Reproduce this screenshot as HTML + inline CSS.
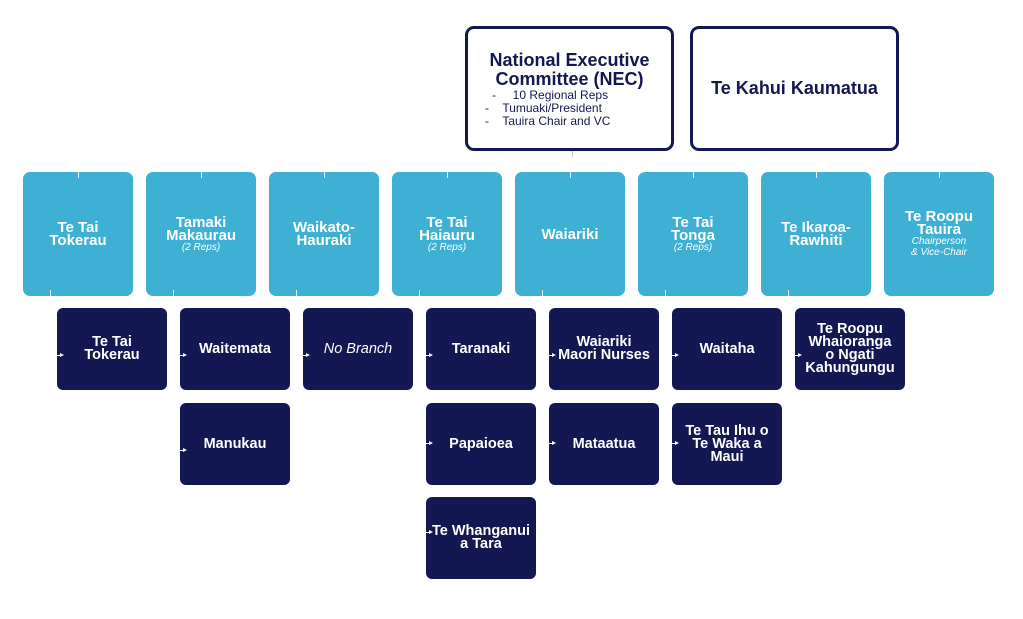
<!DOCTYPE html>
<html><head><meta charset="utf-8"><style>
body{margin:0;width:1023px;height:619px;background:#fff;position:relative;overflow:hidden;font-family:"Liberation Sans",sans-serif;}
.b{position:absolute;box-sizing:border-box;display:flex;flex-direction:column;align-items:center;justify-content:center;text-align:center;font-weight:bold;}
.l{background:#3db0d3;color:#fff;width:110px;height:124px;top:172px;border-radius:7px;font-size:15px;line-height:13px;}
.d{background:#141852;color:#fff;width:110px;height:82px;border-radius:6px;font-size:14.5px;line-height:13px;}
.s{font-size:10px;font-style:italic;font-weight:normal;line-height:11px;}
.t{position:absolute;width:1px;background:#e8f4f8;}
.a{position:absolute;width:0;height:0;border-left:4px solid #fff;border-top:2px solid transparent;border-bottom:2px solid transparent;}
.al{position:absolute;height:1px;width:4px;background:#fff;}
.w{position:absolute;top:26px;height:125px;box-sizing:border-box;border:3px solid #141852;border-radius:9px;color:#141852;text-align:center;font-weight:bold;}
</style></head><body>
<div class="w" style="left:465px;width:209px;padding-top:22px;">
<div style="font-size:18px;line-height:19px;">National Executive<br>Committee (NEC)</div>
<div style="font-size:12px;font-weight:normal;line-height:13px;text-align:left;padding-left:24px;">
<div>-&nbsp;&nbsp;&nbsp;&nbsp;&nbsp;10 Regional Reps</div>
<div style="margin-left:-7px">-&nbsp;&nbsp;&nbsp;&nbsp;Tumuaki/President</div>
<div style="margin-left:-7px">-&nbsp;&nbsp;&nbsp;&nbsp;Tauira Chair and VC</div></div></div>
<div class="w" style="left:690px;width:209px;padding-top:49px;font-size:18px;">Te Kahui Kaumatua</div>
<div class="t" style="left:572px;top:151px;height:6px;background:#ccc"></div>

<div class="b l" style="left:23px">Te Tai<br>Tokerau</div>
<div class="b l" style="left:146px">Tamaki<br>Makaurau<span class="s">(2 Reps)</span></div>
<div class="b l" style="left:269px">Waikato-<br>Hauraki</div>
<div class="b l" style="left:392px">Te Tai<br>Haiauru<span class="s">(2 Reps)</span></div>
<div class="b l" style="left:515px">Waiariki</div>
<div class="b l" style="left:638px">Te Tai<br>Tonga<span class="s">(2 Reps)</span></div>
<div class="b l" style="left:761px">Te Ikaroa-<br>Rawhiti</div>
<div class="b l" style="left:884px">Te Roopu<br>Tauira<span class="s">Chairperson<br>&amp; Vice-Chair</span></div>

<div class="t" style="left:78px;top:172px;height:6px"></div><div class="t" style="left:50px;top:290px;height:6px"></div>
<div class="t" style="left:201px;top:172px;height:6px"></div><div class="t" style="left:173px;top:290px;height:6px"></div>
<div class="t" style="left:324px;top:172px;height:6px"></div><div class="t" style="left:296px;top:290px;height:6px"></div>
<div class="t" style="left:447px;top:172px;height:6px"></div><div class="t" style="left:419px;top:290px;height:6px"></div>
<div class="t" style="left:570px;top:172px;height:6px"></div><div class="t" style="left:542px;top:290px;height:6px"></div>
<div class="t" style="left:693px;top:172px;height:6px"></div><div class="t" style="left:665px;top:290px;height:6px"></div>
<div class="t" style="left:816px;top:172px;height:6px"></div><div class="t" style="left:788px;top:290px;height:6px"></div>
<div class="t" style="left:939px;top:172px;height:6px"></div>

<div class="b d" style="left:57px;top:308px">Te Tai<br>Tokerau</div>
<div class="b d" style="left:180px;top:308px">Waitemata</div>
<div class="b d" style="left:180px;top:403px">Manukau</div>
<div class="b d" style="left:303px;top:308px;font-weight:normal;font-style:italic">No Branch</div>
<div class="b d" style="left:426px;top:308px">Taranaki</div>
<div class="b d" style="left:426px;top:403px">Papaioea</div>
<div class="b d" style="left:426px;top:497px">Te Whanganui<br>a Tara</div>
<div class="b d" style="left:549px;top:308px">Waiariki<br>Maori Nurses</div>
<div class="b d" style="left:549px;top:403px">Mataatua</div>
<div class="b d" style="left:672px;top:308px">Waitaha</div>
<div class="b d" style="left:672px;top:403px">Te Tau Ihu o<br>Te Waka a<br>Maui</div>
<div class="b d" style="left:795px;top:308px">Te Roopu<br>Whaioranga<br>o Ngati<br>Kahungungu</div>

<div class="a" style="left:60px;top:353px"></div><div class="al" style="left:57px;top:355px"></div>
<div class="a" style="left:183px;top:353px"></div><div class="al" style="left:180px;top:355px"></div>
<div class="a" style="left:183px;top:448px"></div><div class="al" style="left:180px;top:450px"></div>
<div class="a" style="left:306px;top:353px"></div><div class="al" style="left:303px;top:355px"></div>
<div class="a" style="left:429px;top:353px"></div><div class="al" style="left:426px;top:355px"></div>
<div class="a" style="left:429px;top:441px"></div><div class="al" style="left:426px;top:443px"></div>
<div class="a" style="left:429px;top:530px"></div><div class="al" style="left:426px;top:532px"></div>
<div class="a" style="left:552px;top:353px"></div><div class="al" style="left:549px;top:355px"></div>
<div class="a" style="left:552px;top:441px"></div><div class="al" style="left:549px;top:443px"></div>
<div class="a" style="left:675px;top:353px"></div><div class="al" style="left:672px;top:355px"></div>
<div class="a" style="left:675px;top:441px"></div><div class="al" style="left:672px;top:443px"></div>
<div class="a" style="left:798px;top:353px"></div><div class="al" style="left:795px;top:355px"></div>
</body></html>
